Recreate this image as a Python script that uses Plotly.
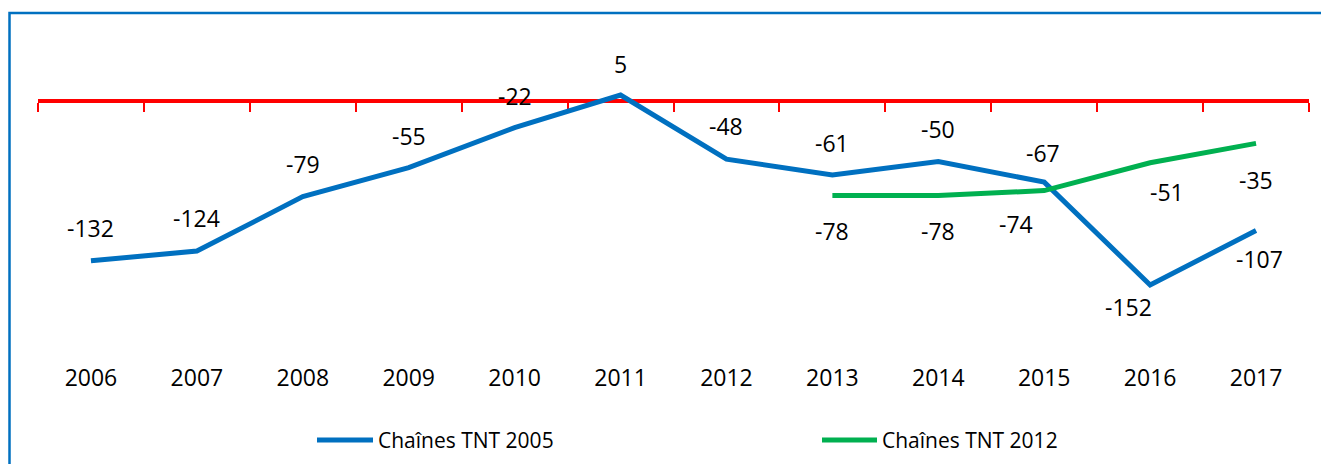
import plotly.graph_objects as go

years = ["2006", "2007", "2008", "2009", "2010", "2011",
         "2012", "2013", "2014", "2015", "2016", "2017"]
tnt2005 = [-132, -124, -79, -55, -22, 5, -48, -61, -50, -67, -152, -107]
years_2012 = ["2013", "2014", "2015", "2016", "2017"]
tnt2012 = [-78, -78, -74, -51, -35]
series_names = ["Chaînes TNT 2005", "Chaînes TNT 2012"]

# label offsets (style only)
yshift_2005 = [33, 33, 33, 32, 32, 31, 33, 32, 33, 29, -22, -28]
xshift_2005 = [0, 0, 0, 0, 0, 0, 0, 0, 0, -1, -22, 3]
yshift_2012 = [-36, -36, -33, -29, -37]
xshift_2012 = [0, 0, -28, 17, 0]

BLUE = "#0070C0"
GREEN = "#00B050"
RED = "#FF0000"
FONT = "Open Sans"

# the page body has an 8px margin, so the figure is sized to fit the window
W, H = 1321, 456
ML, MR, MT, MB = 30, 20, 32, 102
YMIN, YMAX = -215.66, 50.45

fig = go.Figure()
fig.add_trace(go.Scatter(x=years, y=tnt2005, mode="lines", name=series_names[0],
                         line=dict(color=BLUE, width=5), hoverinfo="x+y",
                         showlegend=False))
fig.add_trace(go.Scatter(x=years_2012, y=tnt2012, mode="lines", name=series_names[1],
                         line=dict(color=GREEN, width=5), hoverinfo="x+y",
                         showlegend=False))
# legend entries (text only; swatches drawn as longer shapes below)
for nm, col in zip(series_names, [BLUE, GREEN]):
    fig.add_trace(go.Scatter(x=[None], y=[None], mode="lines", name=nm,
                             line=dict(color=col, width=0), hoverinfo="skip"))
# invisible helper so the zero axis (x2) is drawn
fig.add_trace(go.Scatter(x=years, y=[None] * len(years), xaxis="x2", yaxis="y",
                         mode="lines", showlegend=False, hoverinfo="skip"))

annotations = []
for x, y, dy, dx in zip(years, tnt2005, yshift_2005, xshift_2005):
    annotations.append(dict(x=years.index(x), y=y, xref="x", yref="y", text=str(y),
                            showarrow=False, yshift=dy, xshift=dx,
                            font=dict(family=FONT, size=23, color="black")))
for x, y, dy, dx in zip(years_2012, tnt2012, yshift_2012, xshift_2012):
    annotations.append(dict(x=years.index(x), y=y, xref="x", yref="y", text=str(y),
                            showarrow=False, yshift=dy, xshift=dx,
                            font=dict(family=FONT, size=23, color="black")))

plot_w = W - ML - MR
plot_h = H - MT - MB
frame_x0 = (1.5 - ML) / plot_w
frame_y1 = (H - MB - 5) / plot_h


def px_x(fx):
    return (fx - ML) / plot_w


def px_y(fy):
    return (H - MB - fy) / plot_h


# legend swatches (legend decoration, figure pixel coords)
legend_y = 432
swatches = [
    dict(type="line", xref="paper", yref="paper", x0=px_x(309), x1=px_x(365),
         y0=px_y(legend_y), y1=px_y(legend_y), line=dict(color=BLUE, width=5)),
    dict(type="line", xref="paper", yref="paper", x0=px_x(814), x1=px_x(869),
         y0=px_y(legend_y), y1=px_y(legend_y), line=dict(color=GREEN, width=5)),
]

fig.update_layout(
    width=W, height=H,
    margin=dict(l=ML, r=MR, t=MT, b=MB),
    paper_bgcolor="white", plot_bgcolor="white",
    font=dict(family=FONT, color="black"),
    xaxis=dict(type="category", categoryorder="array", categoryarray=years,
               range=[-0.5, 11.5], showline=False, showgrid=False, zeroline=False,
               ticks="", tickfont=dict(family=FONT, size=23, color="black")),
    xaxis2=dict(type="category", categoryorder="array", categoryarray=years,
                overlaying="x", matches="x", anchor="free",
                position=(0 - YMIN) / (YMAX - YMIN),
                range=[-0.5, 11.5], showline=True, linecolor=RED, linewidth=3.5,
                tickson="boundaries", ticks="outside", ticklen=9, tickwidth=2.3,
                tickcolor=RED, showticklabels=False, showgrid=False, zeroline=False,
                layer="below traces"),
    yaxis=dict(range=[YMIN, YMAX], visible=False, showgrid=False, zeroline=False),
    showlegend=True,
    legend=dict(orientation="h", xref="container", yref="container",
                x=330 / W, y=1 - legend_y / H, xanchor="left", yanchor="middle",
                entrywidthmode="pixels", entrywidth=459,
                font=dict(family=FONT, size=21, color="black"),
                bgcolor="rgba(0,0,0,0)"),
    annotations=annotations,
    shapes=[dict(type="rect", xref="paper", yref="paper",
                 x0=frame_x0, x1=1.2, y0=-0.5, y1=frame_y1,
                 line=dict(color=BLUE, width=2.5), fillcolor="rgba(0,0,0,0)",
                 layer="below")] + swatches,
)

fig.write_html("out.html")
